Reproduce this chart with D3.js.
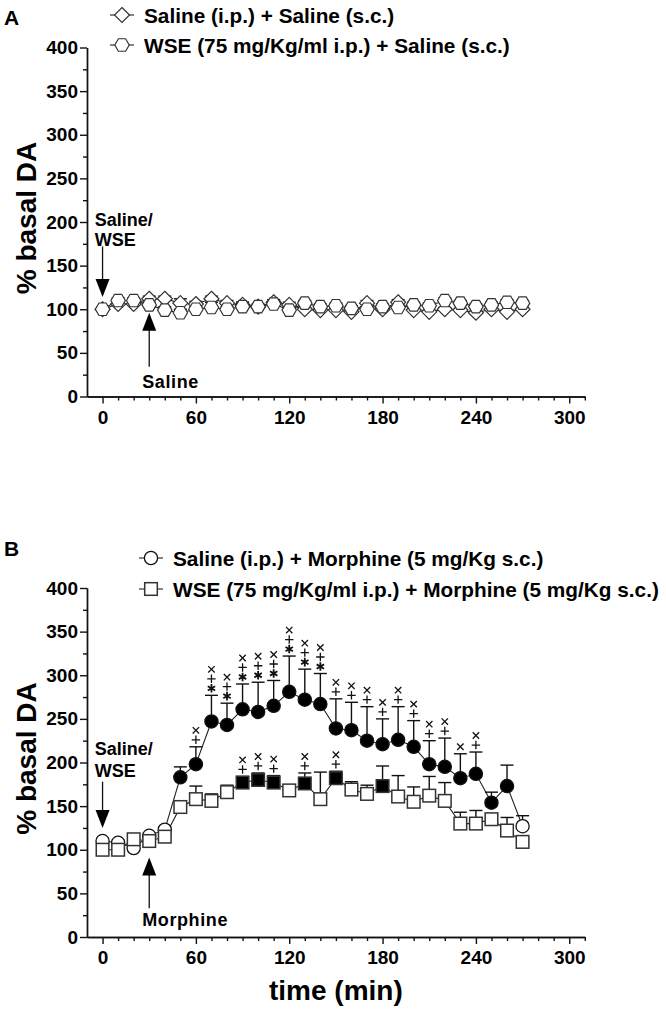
<!DOCTYPE html>
<html lang="en">
<head>
<meta charset="UTF-8">
<title>% basal DA after WSE and morphine</title>
<script src="https://d3js.org/d3.v7.min.js"></script>
<style>
  body { margin: 0; background: #fff; font-family: Arial, "Liberation Sans", sans-serif; }
  svg text { font-family: Arial, "Liberation Sans", sans-serif; font-weight: bold; fill: #000; }
  .tick text { font-size: 19px; }
  .axis-title { font-size: 28px; }
  .legend-text { font-size: 20.8px; }
  .note { font-size: 18px; }
  .panel-tag { font-size: 21px; }
</style>
</head>
<body>
<div id="chart"></div>
<script>
// sampling times (min)
const times = [0, 10, 20, 30, 40, 50, 60, 70, 80, 90, 100, 110, 120, 130,
               140, 150, 160, 170, 180, 190, 200, 210, 220, 230, 240, 250, 260, 270];

// Panel A
const salSalMean = [100, 106, 106, 112, 112, 107, 106, 112, 107, 105, 103, 108, 105, 100,
                    99, 99, 97, 107, 100, 108, 99, 97, 100, 99, 96, 100, 97, 100];
const salSalSem  = [2, 3, 3, 3, 3, 5, 3, 3, 3, 3, 2, 3, 3, 2,
                    2, 2, 2, 3, 3, 3, 2, 2, 2, 2, 2, 3, 2, 2];
const wseSalMean = [100, 110, 110, 105, 99, 96, 100, 102, 100, 103, 103, 106, 99, 107,
                    103, 104, 101, 100, 103, 102, 105, 104, 110, 107, 103, 105, 108, 107];
const wseSalSem  = [2, 3, 3, 3, 4, 4, 3, 6, 3, 5, 3, 3, 3, 3,
                    3, 3, 3, 3, 3, 3, 3, 3, 3, 3, 3, 3, 3, 3];

// Panel B
const salMorMean = [110, 108, 102, 116, 123, 183, 198, 247, 243, 261, 258, 265, 281, 272,
                    267, 239, 237, 225, 221, 226, 218, 198, 195, 182, 187, 154, 173, 127];
const salMorSem  = [3, 3, 3, 3, 3, 12, 20, 30, 25, 29, 34, 29, 41, 35,
                    35, 34, 32, 39, 29, 38, 30, 27, 33, 28, 25, 12, 24, 12];
const salMorSig  = [0, 0, 0, 0, 0, 1, 1, 1, 1, 1, 1, 1, 1, 1,
                    1, 1, 1, 1, 1, 1, 1, 1, 1, 1, 1, 1, 1, 0];
const salMorMarks = ["", "", "", "", "", "", "+×", "*+×", "*+×", "*+×", "*+×", "*+×", "*+×", "*+×",
                     "*+×", "+×", "+×", "+×", "+×", "+×", "+×", "+×", "+×", "×", "+×", "", "", ""];

const wseMorMean = [100, 100, 112, 110, 115, 149, 158, 156, 166, 177, 180, 177, 168, 176,
                    158, 182, 169, 164, 173, 161, 155, 162, 156, 130, 130, 135, 122, 109];
const wseMorSem  = [3, 3, 3, 3, 3, 6, 15, 8, 8, 7, 8, 8, 4, 12,
                    31, 8, 9, 10, 23, 24, 17, 22, 21, 13, 15, 3, 15, 3];
const wseMorSig  = [0, 0, 0, 0, 0, 0, 0, 0, 0, 1, 1, 1, 0, 1,
                    0, 1, 0, 0, 1, 0, 0, 0, 0, 0, 0, 0, 0, 0];
const wseMorMarks = ["", "", "", "", "", "", "", "", "", "+×", "+×", "+×", "", "+×",
                     "", "+×", "", "", "", "", "", "", "", "", "", "", "", ""];

// axis ticks
const xTicks = [0, 60, 120, 180, 240, 300];
const xMinor = [10, 20, 30, 40, 50, 70, 80, 90, 100, 110, 130, 140, 150, 160, 170,
                190, 200, 210, 220, 230, 250, 260, 270, 280, 290, 310];
const yTicks = [0, 50, 100, 150, 200, 250, 300, 350, 400];
const yMinor = [25, 75, 125, 175, 225, 275, 325, 375];

const W = 666, H = 1014;
const svg = d3.select("#chart").append("svg")
    .attr("width", W).attr("height", H);

const x = d3.scaleLinear().domain([-10, 310]).range([87, 584.8]);

// marker shapes
function diamondPath(r) { return `M0,${-r}L${r},0L0,${r}L${-r},0Z`; }
function hexPath(r) {
    const h = r * 0.866;
    return `M${-r},0L${-r / 2},${-h}L${r / 2},${-h}L${r},0L${r / 2},${h}L${-r / 2},${h}Z`;
}
function drawMarker(g, shape, cx, cy, filled) {
    const fill = filled ? "#000" : "#fff";
    if (shape === "circle") {
        g.append("circle").attr("cx", cx).attr("cy", cy).attr("r", 6.6)
            .attr("fill", fill).attr("stroke", "#111").attr("stroke-width", 1.3);
    } else if (shape === "square") {
        g.append("rect").attr("x", cx - 6.3).attr("y", cy - 6.3)
            .attr("width", 12.6).attr("height", 12.6)
            .attr("fill", fill).attr("stroke", "#333").attr("stroke-width", 1.5);
    } else if (shape === "diamond") {
        g.append("path").attr("transform", `translate(${cx},${cy})`).attr("d", diamondPath(7.5))
            .attr("fill", fill).attr("stroke", "#333").attr("stroke-width", 1.2);
    } else {
        g.append("path").attr("transform", `translate(${cx},${cy})`).attr("d", hexPath(7.2))
            .attr("fill", fill).attr("stroke", "#333").attr("stroke-width", 1.2);
    }
}

const markPaths = {
    "+": "M-4.2,0H4.2M0,-4.2V4.2",
    "×": "M-3.2,-3.2L3.2,3.2M-3.2,3.2L3.2,-3.2",
    "*": "M0,-4.3V4.3M-3.7,-2.15L3.7,2.15M-3.7,2.15L3.7,-2.15"
};

function drawPanel(p) {
    const y = d3.scaleLinear().domain([0, 400]).range([p.bottom, p.top]);
    const g = svg.append("g");

    // axes
    const yMin = g.append("g").attr("transform", `translate(${x(-10)},0)`)
        .call(d3.axisLeft(y).tickValues(yMinor).tickSize(4).tickFormat("").tickSizeOuter(0));
    const yMaj = g.append("g").attr("transform", `translate(${x(-10)},0)`)
        .call(d3.axisLeft(y).tickValues(yTicks).tickSize(7).tickPadding(2).tickSizeOuter(0));
    const xMin = g.append("g").attr("transform", `translate(0,${y(0)})`)
        .call(d3.axisBottom(x).tickValues(xMinor).tickSize(4).tickFormat("").tickSizeOuter(0));
    const xMaj = g.append("g").attr("transform", `translate(0,${y(0)})`)
        .call(d3.axisBottom(x).tickValues(xTicks).tickSize(7).tickPadding(7).tickSizeOuter(0));
    [yMin, yMaj, xMin, xMaj].forEach(a => {
        a.attr("font-family", null).attr("font-size", null);
        a.selectAll("path, line").attr("stroke", "#111").attr("stroke-width", 1.4);
    });

    g.append("text").attr("class", "axis-title")
        .attr("transform", `translate(26,${(y(0) + y(400)) / 2 - 4}) rotate(-90)`)
        .attr("text-anchor", "middle").attr("dominant-baseline", "central")
        .text("% basal DA");

    g.append("text").attr("class", "panel-tag")
        .attr("x", 4).attr("y", p.tagY).attr("dominant-baseline", "central").text(p.tag);

    // series
    p.series.forEach(s => {
        const line = d3.line().x((d, i) => x(times[i])).y(d => y(d));
        g.append("path").datum(s.mean).attr("d", line)
            .attr("fill", "none").attr("stroke", "#222").attr("stroke-width", 1.1);
    });
    p.series.forEach(s => {
        s.mean.forEach((m, i) => {
            const cx = x(times[i]), top = y(m + s.sem[i]);
            g.append("line").attr("x1", cx).attr("x2", cx).attr("y1", y(m)).attr("y2", top)
                .attr("stroke", "#111").attr("stroke-width", 1.4);
            g.append("line").attr("x1", cx - 6.5).attr("x2", cx + 6.5).attr("y1", top).attr("y2", top)
                .attr("stroke", "#111").attr("stroke-width", 1.4);
            if (s.marks && s.marks[i]) {
                let yy = top - 7;
                for (const ch of s.marks[i]) {
                    g.append("path").attr("transform", `translate(${cx},${yy})`)
                        .attr("d", markPaths[ch]).attr("fill", "none")
                        .attr("stroke", "#111").attr("stroke-width", ch === "*" ? 1.8 : 1.3);
                    yy -= 9.5;
                }
            }
        });
    });
    p.series.forEach(s => {
        s.mean.forEach((m, i) => {
            drawMarker(g, s.shape, x(times[i]), y(m), s.sig ? s.sig[i] === 1 : false);
        });
    });

    // legend
    p.series.forEach((s, k) => {
        const ly = p.legendY[k];
        g.append("line").attr("x1", p.legendX - 12).attr("x2", p.legendX + 12)
            .attr("y1", ly).attr("y2", ly).attr("stroke", "#222").attr("stroke-width", 1.1);
        drawMarker(g, s.shape, p.legendX, ly, false);
        g.append("text").attr("class", "legend-text")
            .attr("x", p.legendX + 22).attr("y", ly).attr("dominant-baseline", "central")
            .text(s.label);
    });

    // injection arrows and notes
    const n = p.notes;
    g.append("text").attr("class", "note").attr("x", x(-5)).attr("y", y(n.topText[0]))
        .attr("dominant-baseline", "central").text("Saline/");
    g.append("text").attr("class", "note").attr("x", x(-5)).attr("y", y(n.topText[1]))
        .attr("dominant-baseline", "central").text("WSE");
    arrow(g, x(0), y(n.down[0]), y(n.down[1]));
    arrow(g, x(30), y(n.up[0]), y(n.up[1]));
    g.append("text").attr("class", "note").attr("x", x(25.5)).attr("y", y(n.upText))
        .attr("dominant-baseline", "central").attr("letter-spacing", "0.6px").text(n.drug);
}

function arrow(g, cx, yStart, yTip) {
    const dir = yTip > yStart ? 1 : -1;
    g.append("line").attr("x1", cx).attr("x2", cx).attr("y1", yStart).attr("y2", yTip - dir * 10)
        .attr("stroke", "#111").attr("stroke-width", 1.3);
    g.append("path").attr("d", `M${cx},${yTip}L${cx - 7},${yTip - dir * 18}L${cx + 7},${yTip - dir * 18}Z`)
        .attr("fill", "#000");
}

drawPanel({
    tag: "A", tagY: 17, top: 47.5, bottom: 396.5,
    legendX: 122, legendY: [15, 45],
    series: [
        { shape: "diamond", mean: salSalMean, sem: salSalSem, label: "Saline (i.p.) + Saline (s.c.)" },
        { shape: "hexagon", mean: wseSalMean, sem: wseSalSem, label: "WSE (75 mg/Kg/ml i.p.) + Saline (s.c.)" }
    ],
    notes: { topText: [202, 179], down: [172, 114], up: [34, 96], upText: 17, drug: "Saline" }
});

drawPanel({
    tag: "B", tagY: 548, top: 588, bottom: 937,
    legendX: 151, legendY: [558, 589],
    series: [
        { shape: "square", mean: wseMorMean, sem: wseMorSem, sig: wseMorSig, marks: wseMorMarks,
          label: "WSE (75 mg/Kg/ml i.p.) + Morphine (5 mg/Kg s.c.)" },
        { shape: "circle", mean: salMorMean, sem: salMorSem, sig: salMorSig, marks: salMorMarks,
          label: "Saline (i.p.) + Morphine (5 mg/Kg s.c.)" }
    ].reverse(),
    notes: { topText: [215, 190], down: [178, 125], up: [33, 91], upText: 20, drug: "Morphine" }
});

svg.append("text").attr("class", "axis-title")
    .attr("x", (x(0) + x(300)) / 2).attr("y", 990)
    .attr("text-anchor", "middle").attr("dominant-baseline", "central")
    .text("time (min)");
</script>
</body>
</html>
